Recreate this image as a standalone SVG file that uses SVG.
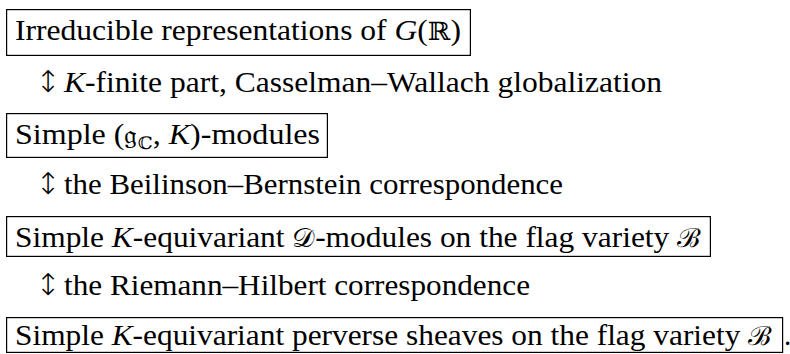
<svg xmlns="http://www.w3.org/2000/svg" width="790" height="354" viewBox="0 0 790 354">
<style>
.box{fill:none;stroke:#000;stroke-width:1.2}
text{fill:#000}
.t{font-size:29px}
.i{font-style:italic}
.arr{font-size:30px;font-weight:200}
</style>
<rect width="790" height="354" fill="#fff"/>
<g id="node-irreducible">
<rect class="box" x="6.6" y="9.6" width="463.8" height="45.8"/>
<text class="t" font-family="'Liberation Serif', 'Times New Roman', serif" x="15" y="40" textLength="446" lengthAdjust="spacingAndGlyphs">Irreducible representations of <tspan class="i">G</tspan>(<tspan font-family="'DejaVu Serif', serif" font-size="25">ℝ</tspan>)</text>
</g>
<g id="node-gk-modules">
<rect class="box" x="6.6" y="113.6" width="320.8" height="43.8"/>
<text class="t" font-family="'Liberation Serif', 'Times New Roman', serif" x="15" y="144" textLength="305" lengthAdjust="spacingAndGlyphs">Simple (<tspan font-family="'DejaVu Serif', serif" font-size="26">𝔤</tspan><tspan font-family="'DejaVu Serif', serif" font-size="17" dy="5">ℂ</tspan><tspan dy="-5">, </tspan><tspan class="i">K</tspan>)-modules</text>
</g>
<g id="node-d-modules">
<rect class="box" x="6.6" y="216.6" width="703.8" height="39.8"/>
<text class="t" font-family="'Liberation Serif', 'Times New Roman', serif" x="15" y="247" textLength="686" lengthAdjust="spacingAndGlyphs">Simple <tspan class="i">K</tspan>-equivariant <tspan font-family="'DejaVu Serif', serif" font-size="26">𝒟</tspan>-modules on the flag variety <tspan font-family="'DejaVu Serif', serif" font-size="26">ℬ</tspan></text>
</g>
<g id="node-perverse">
<rect class="box" x="6.6" y="317.6" width="776" height="34.8"/>
<text class="t" font-family="'Liberation Serif', 'Times New Roman', serif" x="15" y="345" textLength="757" lengthAdjust="spacingAndGlyphs">Simple <tspan class="i">K</tspan>-equivariant perverse sheaves on the flag variety <tspan font-family="'DejaVu Serif', serif" font-size="26">ℬ</tspan></text>
<text class="t" font-family="'Liberation Serif', 'Times New Roman', serif" x="784" y="345">.</text>
</g>
<g id="connectors">
<text class="arr" font-family="'DejaVu Sans', sans-serif" x="48" y="92" text-anchor="middle">↕</text>
<text class="t" font-family="'Liberation Serif', 'Times New Roman', serif" x="64" y="92" textLength="598" lengthAdjust="spacingAndGlyphs"><tspan class="i">K</tspan>-finite part, Casselman–Wallach globalization</text>
<text class="arr" font-family="'DejaVu Sans', sans-serif" x="48" y="194" text-anchor="middle">↕</text>
<text class="t" font-family="'Liberation Serif', 'Times New Roman', serif" x="64" y="194" textLength="499" lengthAdjust="spacingAndGlyphs">the Beilinson–Bernstein correspondence</text>
<text class="arr" font-family="'DejaVu Sans', sans-serif" x="48" y="295" text-anchor="middle">↕</text>
<text class="t" font-family="'Liberation Serif', 'Times New Roman', serif" x="64" y="295" textLength="466" lengthAdjust="spacingAndGlyphs">the Riemann–Hilbert correspondence</text>
</g>
</svg>
